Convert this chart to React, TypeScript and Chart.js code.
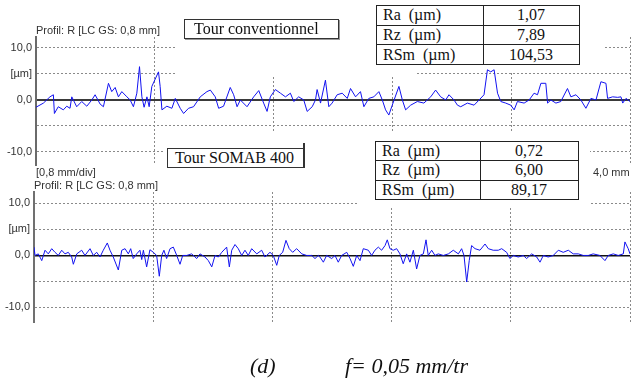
import React, { useEffect, useRef } from 'react';
import { Chart, registerables } from 'chart.js';
Chart.register(...registerables);

// ---- data ----
const X_TICKS = [0, 0.8, 1.6, 2.4, 3.2, 4.0];
const Y_TICKS = [-10, -5, 0, 5, 10];
const Y_LABELS = ['-10,0', '', '0,0', '[µm]', '10,0'];

const convX = [0.0, 0.05, 0.094, 0.117, 0.124, 0.15, 0.184, 0.207, 0.229, 0.241, 0.274, 0.308, 0.342, 0.376, 0.398, 0.432, 0.454, 0.488, 0.51, 0.533, 0.555, 0.578, 0.612, 0.634, 0.656, 0.679, 0.697, 0.713, 0.728, 0.747, 0.762, 0.78, 0.825, 0.836, 0.848, 0.881, 0.915, 0.938, 0.971, 0.994, 1.027, 1.061, 1.106, 1.151, 1.174, 1.207, 1.23, 1.263, 1.308, 1.331, 1.354, 1.376, 1.421, 1.466, 1.5, 1.533, 1.556, 1.578, 1.612, 1.646, 1.68, 1.713, 1.736, 1.769, 1.803, 1.826, 1.86, 1.882, 1.893, 1.916, 1.949, 1.972, 1.994, 2.028, 2.062, 2.096, 2.118, 2.152, 2.185, 2.208, 2.241, 2.275, 2.309, 2.332, 2.354, 2.376, 2.399, 2.444, 2.467, 2.489, 2.523, 2.568, 2.612, 2.658, 2.691, 2.725, 2.759, 2.781, 2.815, 2.838, 2.86, 2.905, 2.95, 2.984, 3.017, 3.04, 3.062, 3.085, 3.108, 3.13, 3.163, 3.197, 3.22, 3.242, 3.287, 3.321, 3.354, 3.377, 3.4, 3.433, 3.445, 3.467, 3.501, 3.534, 3.579, 3.602, 3.636, 3.669, 3.703, 3.737, 3.771, 3.804, 3.838, 3.849, 3.883, 3.917, 3.939, 3.951, 3.973, 4.0];
const convY = [-1.4, -0.6, 0.6, 1.0, -2.6, -1.3, -1.9, -1.2, -1.6, 0.6, -1.3, -0.3, -1.2, 0.0, 1.0, -0.8, -1.3, 3.2, 1.6, 2.4, 0.6, 1.6, 0.6, 0.0, -1.3, 1.3, 6.4, 0.6, -1.4, 0.6, -1.3, 2.6, 5.4, 2.6, -1.9, -1.2, -1.6, 0.3, -1.6, -2.6, -1.6, -1.3, 0.6, 1.6, 1.9, 0.6, -1.6, -1.2, 2.4, 1.0, -1.3, 0.0, -1.3, 0.6, 1.8, -0.6, -2.2, 0.6, 2.0, 1.3, 0.6, 1.3, -0.3, 0.6, 0.0, -2.2, -1.3, 0.0, 2.0, -0.6, 3.8, -1.3, -0.6, 1.0, 1.3, 0.3, 2.2, 0.6, 1.6, -1.3, 0.3, 0.6, 1.6, 0.0, -1.9, -2.9, -1.0, 2.6, 0.0, -1.9, -1.0, -0.3, -0.6, 0.6, 1.9, 0.6, 0.0, 1.0, 0.0, -1.0, -1.3, -0.6, -1.0, 0.0, 1.0, 5.8, 5.4, 5.8, 1.3, -0.3, -0.6, -1.0, -1.9, -0.3, -0.6, 0.0, 1.3, 1.0, 3.2, 3.2, -0.6, 0.0, -0.6, -0.3, 2.2, 0.6, 1.0, 0.0, -1.6, 0.3, 0.0, 3.5, 3.2, 0.3, 0.6, 0.5, 0.6, -0.6, 0.3, -0.3];

const somabX = [0.0, 0.007, 0.029, 0.052, 0.074, 0.096, 0.119, 0.141, 0.163, 0.186, 0.208, 0.23, 0.253, 0.264, 0.287, 0.32, 0.342, 0.376, 0.398, 0.421, 0.443, 0.465, 0.492, 0.51, 0.532, 0.566, 0.589, 0.611, 0.633, 0.649, 0.666, 0.689, 0.711, 0.723, 0.734, 0.756, 0.778, 0.801, 0.823, 0.841, 0.857, 0.872, 0.89, 0.913, 0.935, 0.958, 0.98, 0.998, 1.025, 1.058, 1.092, 1.114, 1.148, 1.17, 1.193, 1.215, 1.237, 1.26, 1.293, 1.311, 1.327, 1.349, 1.371, 1.394, 1.416, 1.438, 1.461, 1.495, 1.528, 1.55, 1.584, 1.606, 1.629, 1.646, 1.669, 1.691, 1.713, 1.736, 1.763, 1.797, 1.83, 1.864, 1.886, 1.908, 1.919, 1.942, 1.964, 1.998, 2.02, 2.042, 2.065, 2.099, 2.121, 2.143, 2.166, 2.188, 2.21, 2.244, 2.266, 2.288, 2.311, 2.333, 2.356, 2.371, 2.389, 2.411, 2.434, 2.456, 2.478, 2.501, 2.523, 2.546, 2.568, 2.59, 2.613, 2.631, 2.646, 2.669, 2.691, 2.713, 2.747, 2.781, 2.814, 2.848, 2.87, 2.886, 2.904, 2.921, 2.937, 2.96, 2.993, 3.027, 3.049, 3.082, 3.116, 3.139, 3.172, 3.194, 3.217, 3.25, 3.284, 3.306, 3.34, 3.374, 3.396, 3.418, 3.451, 3.485, 3.519, 3.552, 3.586, 3.619, 3.653, 3.686, 3.72, 3.753, 3.798, 3.832, 3.854, 3.888, 3.921, 3.955, 3.966, 3.988, 4.0];
const somabY = [1.6, 0.0, 0.3, -1.0, 1.0, 0.3, 1.3, 0.6, 0.0, 1.0, 0.3, 0.6, -0.3, -1.7, 0.3, 1.0, 0.0, 1.3, 0.0, 0.6, -0.3, 1.0, 2.4, 1.0, -0.3, -2.8, 1.0, 1.3, 0.3, 1.3, -0.6, 0.3, 1.0, -0.8, 1.0, -2.2, 1.1, 0.6, 0.0, -4.0, 0.0, 1.0, -0.6, 1.3, 1.6, 0.0, -1.7, 0.0, 0.0, 0.3, -0.6, 0.3, -0.3, -1.0, -2.2, 0.0, -0.3, 0.6, 1.6, -2.2, 1.0, 2.1, 1.3, 0.0, 1.0, 0.0, 1.3, 0.3, 1.0, -0.3, 0.6, 0.0, -1.9, 0.0, 0.6, 2.9, 1.3, 0.6, 1.3, 0.3, 0.0, 0.0, -0.6, 0.0, -0.3, -1.3, 0.0, -0.6, 0.0, -1.3, 0.0, 0.6, -0.6, -2.1, 0.0, -1.0, 1.3, 1.0, 0.0, 1.0, 1.6, 1.0, 1.9, 3.0, 1.3, 1.0, 1.3, 0.3, -1.6, 0.3, -1.3, 1.0, -2.6, 0.0, 0.3, 3.0, 0.0, 1.0, 0.0, 0.3, 0.0, 0.3, 1.0, 0.3, 1.3, 0.0, -5.1, -1.0, 1.9, 1.3, 1.0, 2.2, 1.3, 1.0, 1.0, 1.3, 0.6, -0.6, 0.0, -0.3, 0.0, -0.6, 0.3, -0.3, -1.3, 0.0, -0.3, 0.0, 1.0, 0.6, 1.0, 0.3, 0.3, 0.0, 0.0, 0.3, 0.0, -1.0, 0.0, 0.3, 0.0, 0.3, 2.6, 1.3, 0.3];

const statNames = ['Ra  (µm)', 'Rz  (µm)', 'RSm  (µm)'];
const convStats = ['1,07', '7,89', '104,53'];
const somabStats = ['0,72', '6,00', '89,17'];

const W = 632;
const H = 385;

type Panel = {
  left: number; right: number; top: number; bottom: number;
  yMin: number; yMax: number; zeroColor: string; zeroWidth: number; axisColor: string;
  occluders: number[][];
};

function occluderPlugin(rects: number[][]) {
  return {
    id: 'occluder',
    beforeDatasetsDraw(chart: any) {
      const ctx = chart.ctx;
      ctx.save();
      ctx.fillStyle = '#ffffff';
      rects.forEach(([x, y, w, h]) => ctx.fillRect(x, y, w, h));
      ctx.restore();
    },
  };
}

function makeChart(canvas: HTMLCanvasElement, xs: number[], ys: number[], p: Panel) {
  return new Chart(canvas, {
    type: 'line',
    data: {
      datasets: [{
        data: xs.map((x, i) => ({ x, y: ys[i] })),
        borderColor: 'rgb(18,18,240)',
        borderWidth: 1,
        pointRadius: 0,
        tension: 0,
      }],
    },
    options: {
      responsive: false,
      animation: false,
      devicePixelRatio: 1,
      events: [],
      layout: { padding: { top: p.top, bottom: H - p.bottom, left: 0, right: W - p.right } },
      plugins: { legend: { display: false }, tooltip: { enabled: false } },
      scales: {
        x: {
          type: 'linear',
          min: 0,
          max: 4,
          afterBuildTicks: (axis: any) => { axis.ticks = X_TICKS.map((v) => ({ value: v })); },
          afterFit: (axis: any) => { axis.height = 0; },
          ticks: { display: false },
          grid: {
            drawTicks: false,
            color: (c: any) => (c.index === 0 ? 'rgba(0,0,0,0)' : '#8a8a8a'),
            lineWidth: 1,
          },
          border: { display: false, dash: [2, 2] },
        },
        y: {
          type: 'linear',
          min: p.yMin,
          max: p.yMax,
          afterBuildTicks: (axis: any) => { axis.ticks = Y_TICKS.map((v) => ({ value: v })); },
          afterFit: (axis: any) => { axis.width = p.left; },
          ticks: {
            padding: 4,
            color: '#333',
            font: { family: 'Liberation Sans', size: 11 },
            callback: (v: any) => Y_LABELS[Y_TICKS.indexOf(Number(v))] ?? '',
          },
          grid: {
            drawTicks: false,
            color: (c: any) => (c.tick && c.tick.value === 0 ? p.zeroColor : '#8a8a8a'),
            lineWidth: (c: any) => (c.tick && c.tick.value === 0 ? p.zeroWidth : 1),
          },
          border: {
            display: true,
            color: p.axisColor,
            width: 2,
            dash: (c: any) => (c.tick && c.tick.value === 0 ? [] : [2, 2]),
          },
        },
      },
    } as any,
    plugins: [occluderPlugin(p.occluders)],
  });
}

const topPanel: Panel = {
  left: 36, right: 630, top: 37, bottom: 165, yMin: -12.5, yMax: 12.1,
  zeroColor: '#3a3a3a', zeroWidth: 2, axisColor: '#6a6a6a',
  occluders: [[175, 36, 430, 37], [175, 73, 240, 4], [165, 131, 425, 36]],
};
const bottomPanel: Panel = {
  left: 34, right: 630, top: 192, bottom: 322, yMin: -12.8, yMax: 12.2,
  zeroColor: '#111', zeroWidth: 1.5, axisColor: '#707070',
  occluders: [[358, 190, 232, 18]],
};

const sans: React.CSSProperties = { fontFamily: 'Liberation Sans, Arial, sans-serif', fontSize: 11, color: '#333' };
const serif = 'Liberation Serif, Times New Roman, serif';

function Txt({ x, cy, children, style }: any) {
  return (
    <div style={{ position: 'absolute', left: x, top: cy - 7, height: 14, lineHeight: '14px', whiteSpace: 'pre', ...sans, ...style }}>
      {children}
    </div>
  );
}

function StatTable({ left, top, width, split, rows, values }: any) {
  let y = 0;
  return (
    <div style={{ position: 'absolute', left, top, width, height: rows.reduce((a: number, b: number) => a + b, 0), background: '#fff', border: '1px solid #222', boxSizing: 'border-box' }}>
      <div style={{ position: 'absolute', left: split, top: 0, bottom: 0, width: 1, background: '#222' }} />
      {statNames.map((n, i) => {
        const h = rows[i];
        const t = y;
        y += h;
        return (
          <React.Fragment key={n}>
            {i > 0 && <div style={{ position: 'absolute', left: 0, right: 0, top: t - 1, height: 1, background: '#222' }} />}
            <div style={{ position: 'absolute', left: 6, top: t - 1, height: h, lineHeight: h + 'px', fontFamily: serif, fontSize: 16, whiteSpace: 'pre', color: '#111' }}>{n}</div>
            <div style={{ position: 'absolute', left: split, right: 0, top: t - 1, height: h, lineHeight: h + 'px', fontFamily: serif, fontSize: 16, textAlign: 'center', color: '#111' }}>{values[i]}</div>
          </React.Fragment>
        );
      })}
    </div>
  );
}

export default function App() {
  const c1 = useRef<HTMLCanvasElement>(null);
  const c2 = useRef<HTMLCanvasElement>(null);
  useEffect(() => {
    const a = makeChart(c1.current!, convX, convY, topPanel);
    const b = makeChart(c2.current!, somabX, somabY, bottomPanel);
    return () => { a.destroy(); b.destroy(); };
  }, []);
  return (
    <div style={{ position: 'fixed', left: 0, top: 0, width: W, height: H, background: '#fff', overflow: 'hidden' }}>
      <canvas ref={c1} width={W} height={H} style={{ position: 'absolute', left: 0, top: 0, width: W, height: H }} />
      <canvas ref={c2} width={W} height={H} style={{ position: 'absolute', left: 0, top: 0, width: W, height: H }} />

      <Txt x={36} cy={30}>Profil: R [LC GS: 0,8 mm]</Txt>
      <Txt x={36} cy={172}>[0,8 mm/div]</Txt>
      <Txt x={593} cy={172}>4,0 mm</Txt>
      <Txt x={34} cy={185}>Profil: R [LC GS: 0,8 mm]</Txt>

      <div style={{ position: 'absolute', left: 184, top: 19, width: 155, height: 20, boxSizing: 'border-box', border: '1px solid #333', boxShadow: '1px 1px 0 #999', background: '#fff', fontFamily: serif, fontSize: 16, lineHeight: '18px', paddingLeft: 9, whiteSpace: 'pre', color: '#111' }}>
        Tour conventionnel
      </div>
      <div style={{ position: 'absolute', left: 167, top: 148, width: 138, height: 20, boxSizing: 'border-box', border: '1px solid #333', background: '#fff', fontFamily: serif, fontSize: 16, lineHeight: '18px', paddingLeft: 7, whiteSpace: 'pre', color: '#111' }}>
        Tour SOMAB 400
      </div>
      <div style={{ position: 'absolute', left: 303, top: 143, width: 2, height: 25, background: '#333' }} />

      <StatTable left={376} top={5} width={204} split={106} rows={[20, 19, 21]} values={convStats} />
      <StatTable left={375} top={141} width={204} split={104} rows={[19, 20, 20]} values={somabStats} />

      <div style={{ position: 'absolute', left: 250, top: 353, fontFamily: serif, fontStyle: 'italic', fontSize: 22, lineHeight: '26px', whiteSpace: 'pre', color: '#111' }}>(d)</div>
      <div style={{ position: 'absolute', left: 345, top: 353, fontFamily: serif, fontStyle: 'italic', fontSize: 22, lineHeight: '26px', whiteSpace: 'pre', color: '#111' }}>f= 0,05 mm/tr</div>
    </div>
  );
}
